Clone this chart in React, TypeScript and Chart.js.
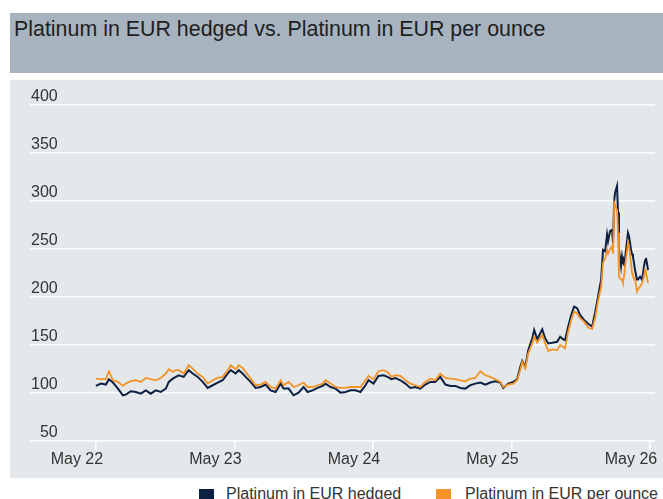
import React, { useEffect, useRef } from "react";
import { Chart, registerables } from "chart.js";

Chart.register(...registerables);

const chartTitle = "Platinum in EUR hedged vs. Platinum in EUR per ounce";
const seriesNames = ["Platinum in EUR hedged", "Platinum in EUR per ounce"];
const xTickLabels = ["May 22", "May 23", "May 24", "May 25", "May 26"];
const xTickYears = [0, 1, 2, 3, 4];
const yMin = 50;
const yMax = 400;
const yStep = 50;

// time in years since May 2022
const yearsSinceMay2022 = [
  0.000, 0.036, 0.072, 0.094, 0.123, 0.159, 0.195, 0.216, 0.252, 0.288,
  0.324, 0.360, 0.396, 0.432, 0.468, 0.505, 0.526, 0.555, 0.577, 0.598,
  0.634, 0.670, 0.699, 0.735, 0.771, 0.807, 0.843, 0.879, 0.915, 0.951,
  0.973, 1.009, 1.031, 1.059, 1.081, 1.117, 1.153, 1.189, 1.225, 1.261,
  1.297, 1.333, 1.355, 1.391, 1.427, 1.463, 1.499, 1.528, 1.564, 1.600,
  1.636, 1.658, 1.694, 1.730, 1.766, 1.802, 1.838, 1.874, 1.910, 1.946,
  1.968, 2.004, 2.040, 2.076, 2.105, 2.133, 2.162, 2.198, 2.234, 2.270,
  2.306, 2.342, 2.378, 2.414, 2.450, 2.486, 2.523, 2.559, 2.595, 2.631,
  2.667, 2.703, 2.739, 2.775, 2.811, 2.847, 2.883, 2.919, 2.941, 2.977,
  3.013, 3.041, 3.063, 3.077, 3.099, 3.121, 3.150, 3.164, 3.186, 3.222,
  3.243, 3.265, 3.294, 3.330, 3.351, 3.373, 3.387, 3.409, 3.431, 3.452,
  3.474, 3.495, 3.524, 3.553, 3.582, 3.604, 3.625, 3.647, 3.661, 3.676,
  3.690, 3.697, 3.712, 3.726, 3.733, 3.741, 3.748, 3.762, 3.769, 3.776,
  3.791, 3.798, 3.805, 3.813, 3.820, 3.827, 3.841, 3.849, 3.863, 3.870,
  3.877, 3.892, 3.906, 3.913, 3.928, 3.942, 3.950, 3.957, 3.964, 3.971,
  3.986,
];

const hedged = [
  107.2, 109.6, 108.6, 114.2, 110.7, 104.4, 97.4, 98.1, 101.6, 100.9,
  99.1, 102.6, 99.1, 102.6, 100.9, 104.4, 111.4, 114.8, 116.6, 118.3,
  116.6, 123.6, 120.1, 116.6, 111.4, 105.1, 107.9, 110.7, 113.1, 120.1,
  123.6, 120.1, 123.6, 120.1, 116.6, 111.4, 105.1, 106.1, 108.6, 102.6,
  100.9, 109.6, 104.4, 104.4, 97.4, 100.2, 106.1, 100.9, 102.6, 105.1,
  107.2, 109.6, 106.1, 104.4, 100.2, 100.9, 102.6, 102.6, 100.9, 107.9,
  113.1, 109.6, 117.6, 118.3, 116.6, 114.2, 115.5, 113.1, 109.6, 105.1,
  106.1, 104.4, 108.6, 111.4, 111.4, 116.6, 108.6, 107.2, 107.2, 105.1,
  104.4, 107.9, 109.6, 110.7, 108.6, 110.7, 112.1, 110.7, 105.1, 109.6,
  111.4, 114.2, 127.0, 133.3, 127.0, 144.5, 156.8, 165.5, 155.8, 166.2,
  156.8, 151.5, 152.2, 153.2, 158.5, 155.8, 155.0, 169.0, 181.2, 189.9,
  188.2, 181.2, 176.0, 172.0, 169.0, 184.0, 200.4, 218.0, 249.0, 247.6,
  265.0, 258.0, 268.5, 270.0, 256.0, 300.0, 308.8, 315.7, 288.0, 249.0,
  232.0, 242.0, 236.0, 233.6, 240.0, 249.0, 266.8, 263.0, 249.0, 245.0,
  242.0, 228.0, 218.0, 218.0, 221.0, 218.0, 225.0, 232.0, 238.0, 240.6,
  228.0,
];

const perOunce = [
  114.8, 114.2, 114.2, 122.5, 113.1, 111.4, 107.2, 109.6, 112.1, 113.1,
  111.4, 115.5, 114.2, 113.1, 115.5, 120.1, 124.6, 121.8, 123.6, 123.6,
  120.1, 128.8, 125.3, 120.1, 116.6, 109.6, 113.1, 115.5, 116.6, 123.6,
  128.8, 124.6, 128.8, 126.0, 121.8, 114.8, 107.9, 108.6, 111.4, 106.1,
  104.4, 113.1, 107.9, 111.4, 106.1, 107.9, 110.7, 106.1, 106.1, 107.9,
  109.6, 113.1, 109.6, 106.1, 105.1, 105.1, 106.1, 106.1, 106.1, 113.1,
  117.6, 114.2, 122.5, 123.6, 121.8, 116.6, 118.3, 117.6, 113.1, 109.6,
  107.9, 106.1, 111.4, 114.8, 113.1, 120.1, 115.5, 114.8, 114.2, 113.1,
  112.1, 114.8, 115.5, 122.5, 118.3, 116.6, 114.2, 111.4, 106.1, 108.6,
  109.6, 113.1, 123.6, 132.3, 125.4, 141.0, 151.5, 158.5, 152.2, 160.3,
  151.5, 143.8, 145.3, 144.5, 149.8, 148.0, 146.3, 163.7, 176.0, 184.7,
  183.0, 177.8, 174.2, 168.0, 166.5, 178.0, 196.0, 210.0, 235.7, 240.0,
  249.0, 245.0, 250.0, 252.8, 245.0, 298.3, 296.0, 290.0, 266.8, 221.0,
  218.0, 218.0, 214.5, 222.0, 232.0, 240.0, 256.7, 252.0, 235.0, 225.0,
  222.0, 218.0, 205.6, 208.0, 210.9, 214.0, 218.0, 222.0, 228.0, 225.0,
  214.5,
];

const NAVY = "#0c2044";
const ORANGE = "#f39325";
const TEXT = "#333333";
const FONT = "'Liberation Sans', Arial, Helvetica, sans-serif";

export default function App() {
  const canvasRef = useRef<HTMLCanvasElement>(null);

  useEffect(() => {
    const canvas = canvasRef.current;
    if (!canvas) return;
    Chart.defaults.font.family = FONT;
    const chart = new Chart(canvas, {
      type: "line",
      data: {
        datasets: [
          {
            label: seriesNames[1],
            data: yearsSinceMay2022.map((t, i) => ({ x: t, y: perOunce[i] })),
            borderColor: ORANGE,
            backgroundColor: ORANGE,
            borderWidth: 1.8,
            pointRadius: 0,
            tension: 0,
            order: 0,
          },
          {
            label: seriesNames[0],
            data: yearsSinceMay2022.map((t, i) => ({ x: t, y: hedged[i] })),
            borderColor: NAVY,
            backgroundColor: NAVY,
            borderWidth: 2,
            pointRadius: 0,
            tension: 0,
            order: 1,
          },
        ],
      },
      options: {
        animation: false,
        responsive: false,
        maintainAspectRatio: false,
        events: [],
        layout: {
          autoPadding: false,
          padding: { left: 18, right: 8, top: 25, bottom: 9 },
        },
        plugins: {
          legend: { display: false },
          tooltip: { enabled: false },
          title: { display: false },
        },
        scales: {
          x: {
            type: "linear",
            min: -0.4757,
            max: 4.036,
            border: { display: false },
            grid: {
              drawOnChartArea: false,
              drawTicks: true,
              tickLength: 9,
              color: "#ffffff",
              lineWidth: 1.5,
            },
            afterBuildTicks: (scale: any) => {
              scale.ticks = xTickYears.map((v) => ({ value: v }));
            },
            afterFit: (scale: any) => {
              scale.paddingLeft = 0;
              scale.paddingRight = 0;
            },
            ticks: {
              autoSkip: false,
              maxRotation: 0,
              minRotation: 0,
              labelOffset: -19,
              padding: 0,
              color: TEXT,
              font: { size: 16 },
              callback: (_v: any, i: number) => xTickLabels[i],
            },
          },
          y: {
            min: yMin,
            max: yMax,
            border: { display: false },
            grid: { color: "#ffffff", lineWidth: 1.5, drawTicks: false },
            afterFit: (scale: any) => {
              scale.paddingTop = 0;
              scale.paddingBottom = 0;
            },
            ticks: {
              stepSize: yStep,
              mirror: true,
              crossAlign: "far",
              padding: 1,
              labelOffset: -8,
              color: TEXT,
              font: { size: 16 },
            },
          },
        },
      },
    } as any);
    return () => chart.destroy();
  }, []);

  return (
    <div style={{ position: "relative", width: 663, height: 499, overflow: "hidden", fontFamily: FONT }}>
      <style>{"html,body{margin:0;padding:0;overflow:hidden;background:#ffffff}"}</style>
      <div
        style={{
          position: "absolute",
          left: 10,
          top: 13,
          width: 653,
          height: 60,
          background: "#a7b4bf",
        }}
      />
      <div
        style={{
          position: "absolute",
          left: 14,
          top: 19,
          fontSize: 21.4,
          lineHeight: "21px",
          color: "#1e1e1e",
          whiteSpace: "nowrap",
        }}
      >
        {chartTitle}
      </div>
      <div
        style={{
          position: "absolute",
          left: 10,
          top: 80,
          width: 653,
          height: 398,
          background: "#e4e8eb",
        }}
      />
      <canvas
        ref={canvasRef}
        width={653}
        height={398}
        style={{ position: "absolute", left: 10, top: 80, width: 653, height: 398 }}
      />
      <div style={{ position: "absolute", left: 199, top: 489, width: 15, height: 15, background: NAVY }} />
      <div
        style={{ position: "absolute", left: 226, top: 486, fontSize: 16, lineHeight: "16px", color: TEXT, whiteSpace: "nowrap" }}
      >
        {seriesNames[0]}
      </div>
      <div style={{ position: "absolute", left: 436, top: 489, width: 15, height: 15, background: ORANGE }} />
      <div
        style={{ position: "absolute", left: 465, top: 486, fontSize: 16, lineHeight: "16px", color: TEXT, whiteSpace: "nowrap" }}
      >
        {seriesNames[1]}
      </div>
    </div>
  );
}
